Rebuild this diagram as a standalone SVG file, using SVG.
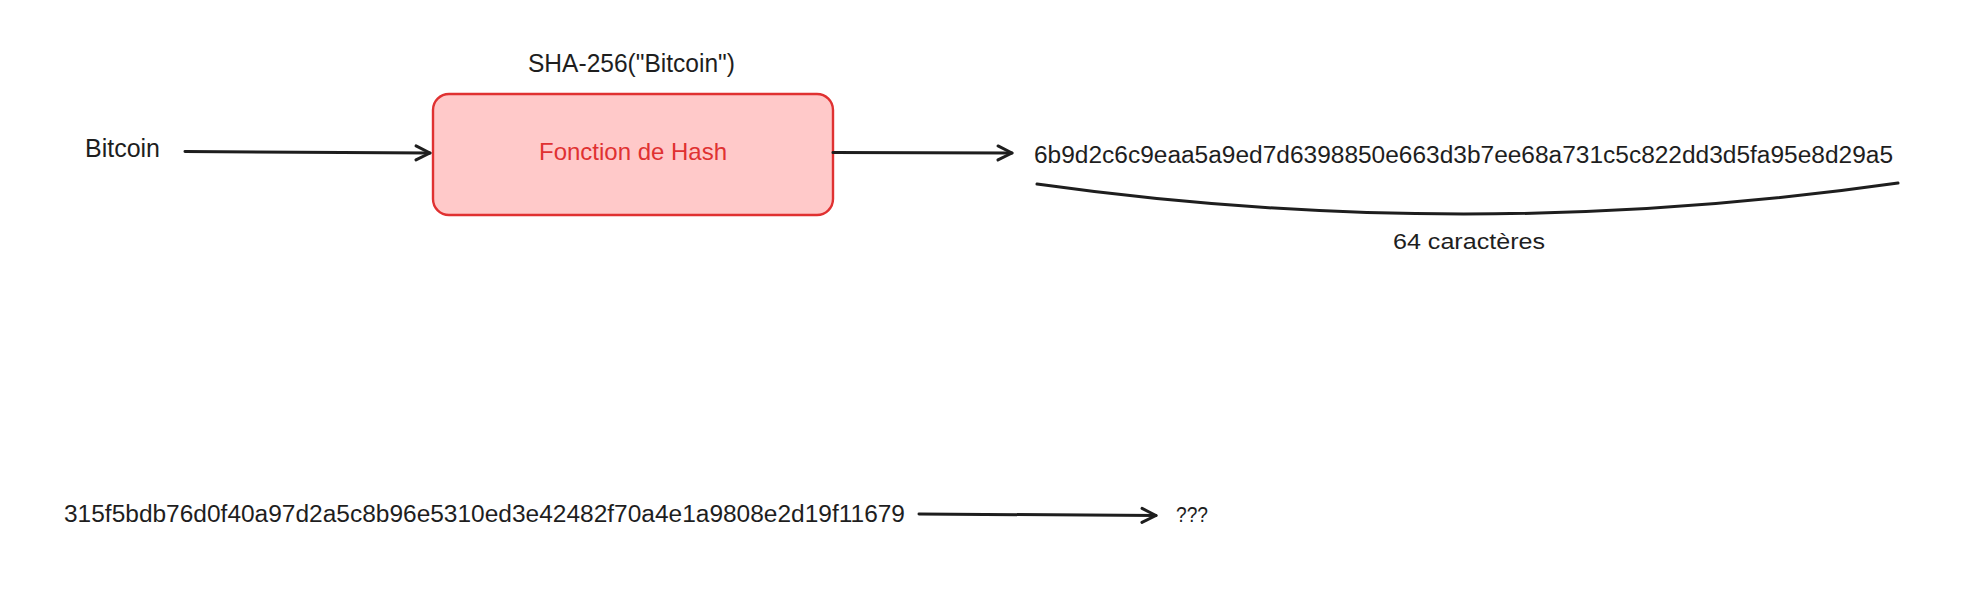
<svg xmlns="http://www.w3.org/2000/svg" width="1971" height="607" viewBox="0 0 1971 607">
<defs>
<style>
.t{font-family:"Liberation Sans",Arial,sans-serif;fill:#1e1e1e}
.c{stroke:#1e1e1e;stroke-width:3;fill:none;stroke-linecap:round}
</style>
<marker id="ah" viewBox="0 0 20 20" refX="17" refY="10" markerWidth="20" markerHeight="20" markerUnits="userSpaceOnUse" orient="auto">
<path d="M3 3 L17 10 L3 17" fill="none" stroke="#1e1e1e" stroke-width="3" stroke-linecap="round" stroke-linejoin="round"/>
</marker>
</defs>
<rect width="1971" height="607" fill="#ffffff"/>
<g id="input">
<text class="t" x="85" y="157" font-size="25" textLength="75" lengthAdjust="spacingAndGlyphs">Bitcoin</text>
</g>
<g id="hash-function">
<rect x="433" y="94" width="400" height="121" rx="16" fill="#ffc9c9" stroke="#e03131" stroke-width="2.4"/>
<text class="t" x="633" y="160" font-size="24" text-anchor="middle" style="fill:#e03131" textLength="188" lengthAdjust="spacingAndGlyphs">Fonction de Hash</text>
</g>
<g id="label-sha">
<text class="t" x="528" y="72" font-size="25" textLength="207" lengthAdjust="spacingAndGlyphs">SHA-256("Bitcoin")</text>
</g>
<g id="output">
<text class="t" x="1034" y="163" font-size="23" textLength="859" lengthAdjust="spacingAndGlyphs">6b9d2c6c9eaa5a9ed7d6398850e663d3b7ee68a731c5c822dd3d5fa95e8d29a5</text>
</g>
<g id="brace">
<path class="c" d="M1037 184 Q1467 244.5 1898 183" stroke-width="3.2"/>
<text class="t" x="1393" y="249" font-size="22" textLength="152" lengthAdjust="spacingAndGlyphs">64 caractères</text>
</g>
<g id="hash-input">
<text class="t" x="64" y="522" font-size="23" textLength="841" lengthAdjust="spacingAndGlyphs">315f5bdb76d0f40a97d2a5c8b96e5310ed3e42482f70a4e1a9808e2d19f11679</text>
</g>
<g id="unknown">
<text class="t" x="1176" y="522" font-size="22" textLength="32" lengthAdjust="spacingAndGlyphs">???</text>
</g>
<g id="connectors">
<path class="c" d="M185 151.5 L430 153" marker-end="url(#ah)"/>
<path class="c" d="M833 152.5 L1012 153" marker-end="url(#ah)"/>
<path class="c" d="M919 514 L1156 515.5" marker-end="url(#ah)"/>
</g>
</svg>
